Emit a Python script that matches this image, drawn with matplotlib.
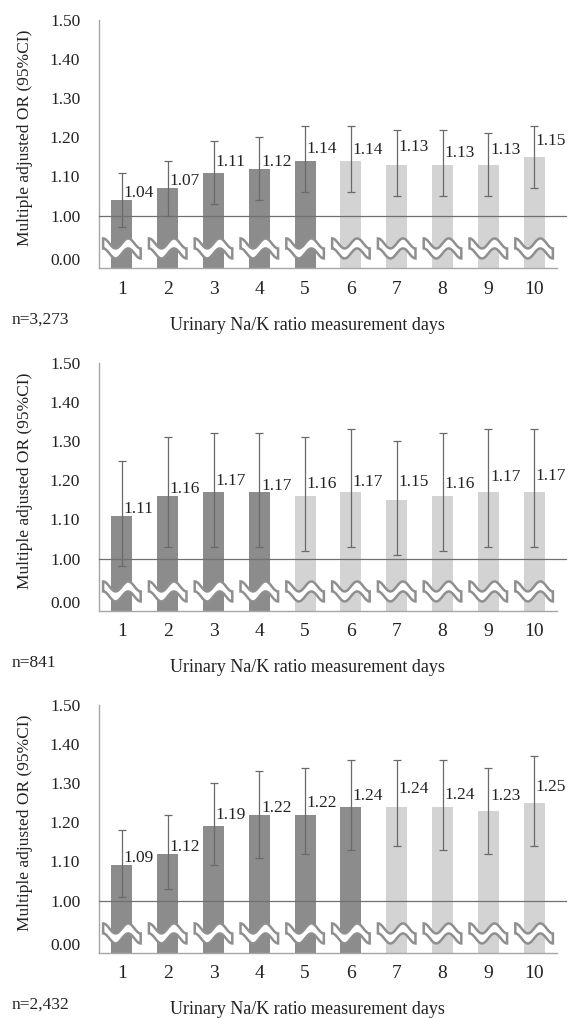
import matplotlib
matplotlib.use("Agg")
import matplotlib.pyplot as plt
import numpy as np
from matplotlib.patches import Polygon

# ---------------- data ----------------
days = [1, 2, 3, 4, 5, 6, 7, 8, 9, 10]
day_labels = ["1", "2", "3", "4", "5", "6", "7", "8", "9", "10"]
ytick_labels = ["0.00", "1.00", "1.10", "1.20", "1.30", "1.40", "1.50"]

or_a = [1.04, 1.07, 1.11, 1.12, 1.14, 1.14, 1.13, 1.13, 1.13, 1.15]
lo_a = [0.97, 1.00, 1.03, 1.04, 1.06, 1.06, 1.05, 1.05, 1.05, 1.07]
hi_a = [1.11, 1.14, 1.19, 1.20, 1.23, 1.23, 1.22, 1.22, 1.21, 1.23]
dark_days_a = 5
n_a = "n=3,273"

or_b = [1.11, 1.16, 1.17, 1.17, 1.16, 1.17, 1.15, 1.16, 1.17, 1.17]
lo_b = [0.98, 1.03, 1.03, 1.03, 1.02, 1.03, 1.01, 1.02, 1.03, 1.03]
hi_b = [1.25, 1.31, 1.32, 1.32, 1.31, 1.33, 1.30, 1.32, 1.33, 1.33]
dark_days_b = 4
n_b = "n=841"

or_c = [1.09, 1.12, 1.19, 1.22, 1.22, 1.24, 1.24, 1.24, 1.23, 1.25]
lo_c = [1.01, 1.03, 1.09, 1.11, 1.12, 1.13, 1.14, 1.13, 1.12, 1.14]
hi_c = [1.18, 1.22, 1.30, 1.33, 1.34, 1.36, 1.36, 1.36, 1.34, 1.37]
dark_days_c = 6
n_c = "n=2,432"

ylabel_text = "Multiple adjusted OR (95%CI)"
xlabel_text = "Urinary Na/K ratio measurement days"

# ---------------- style / layout ----------------
W, H = 568, 1018
DPI = 100
SERIF = ["Liberation Serif", "DejaVu Serif"]
plt.rcParams["font.family"] = SERIF

DARK = "#8c8c8c"
LIGHT = "#d3d3d3"
ERR = "#6a6a6a"
REF = "#707070"
SPINE = "#a6a6a6"
WAVE_EDGE = "#8f8f8f"

label_offsets_px = [7, 7, 11, 6.5, 12, 10.5, 18, 11.5, 15, 16]
zero_pos = 0.888      # where the "0.00" label sits on the broken axis
y_bottom = 0.866
wave_center = 0.916

fig = plt.figure(figsize=(W / DPI, H / DPI), dpi=DPI)

panels = [
    (or_a, lo_a, hi_a, dark_days_a, n_a, 20),
    (or_b, lo_b, hi_b, dark_days_b, n_b, 363),
    (or_c, lo_c, hi_c, dark_days_c, n_c, 705),
]

ax_left_px, ax_right_px = 99, 557
ax_h_px = 248

for vals, lo, hi, ndark, ntext, top_px in panels:
    bottom_px = top_px + ax_h_px
    ax = fig.add_axes([ax_left_px / W, 1 - bottom_px / H,
                       (ax_right_px - ax_left_px) / W, ax_h_px / H])
    x = np.array(days, dtype=float)
    v = np.array(vals)
    colors = [DARK if d <= ndark else LIGHT for d in days]
    ax.bar(x, v - y_bottom, bottom=y_bottom, width=0.46, color=colors,
           zorder=2, linewidth=0)
    yerr = [v - np.array(lo), np.array(hi) - v]
    ax.errorbar(x, v, yerr=yerr, fmt="none", ecolor=ERR, elinewidth=0.9,
                capsize=2.6, capthick=0.9, zorder=4)
    # reference line at 1.00 extending past the axis
    ax.plot([0, 1.02], [1.0, 1.0], transform=ax.get_yaxis_transform(),
            color=REF, lw=0.9, zorder=3, clip_on=False)
    # value labels
    for xi, vi, off in zip(x, v, label_offsets_px):
        ax.annotate(f"{vi:.2f}", (xi, vi), xytext=(1.2, off * 72 / DPI),
                    textcoords="offset points", ha="left", va="center",
                    fontsize=12.5, color="#222222", zorder=6)
    # broken-axis wave symbols
    ax.set_xlim(0.5, 10.5)
    ax.set_ylim(y_bottom, 1.5)
    px_per_unit_y = ax_h_px / (1.5 - y_bottom)
    A = 5.0 / px_per_unit_y
    th = 10.0 / px_per_unit_y
    wdt = 0.82
    t = np.linspace(0, 1, 80)
    for xi in x:
        xs = xi - wdt / 2 + wdt * t
        wv = A * np.cos(3 * np.pi * t)
        top = wave_center + th / 2 + wv
        bot = wave_center - th / 2 + wv
        pts = np.concatenate([np.column_stack([xs, top]),
                              np.column_stack([xs[::-1], bot[::-1]])])
        ax.add_patch(Polygon(pts, closed=True, facecolor="white",
                             edgecolor=WAVE_EDGE, lw=1.8, zorder=5,
                             joinstyle="miter"))
    ax.set_yticks([zero_pos, 1.0, 1.1, 1.2, 1.3, 1.4, 1.5])
    ax.set_yticklabels(ytick_labels)
    ax.set_xticks(x)
    ax.set_xticklabels(day_labels)
    ax.tick_params(axis="y", length=0, pad=13.5, labelsize=12.5,
                   labelcolor="#222222")
    ax.tick_params(axis="x", length=0, pad=9, labelsize=14,
                   labelcolor="#222222")
    for s in ["top", "right"]:
        ax.spines[s].set_visible(False)
    for s in ["left", "bottom"]:
        ax.spines[s].set_color(SPINE)
        ax.spines[s].set_linewidth(1.0)
    ax.set_facecolor("none")
    # texts
    mid_px = top_px + ax_h_px / 2 - 6
    fig.text(25 / W, 1 - mid_px / H, ylabel_text, rotation=90,
             ha="center", va="center", fontsize=12.5, color="#222222")
    fig.text(12 / W, 1 - (bottom_px + 52) / H, ntext, ha="left",
             va="center", fontsize=12.5, color="#222222")
    fig.text(307 / W, 1 - (bottom_px + 57) / H, xlabel_text, ha="center",
             va="center", fontsize=13, color="#222222")

fig.savefig("out.png", dpi=DPI)
